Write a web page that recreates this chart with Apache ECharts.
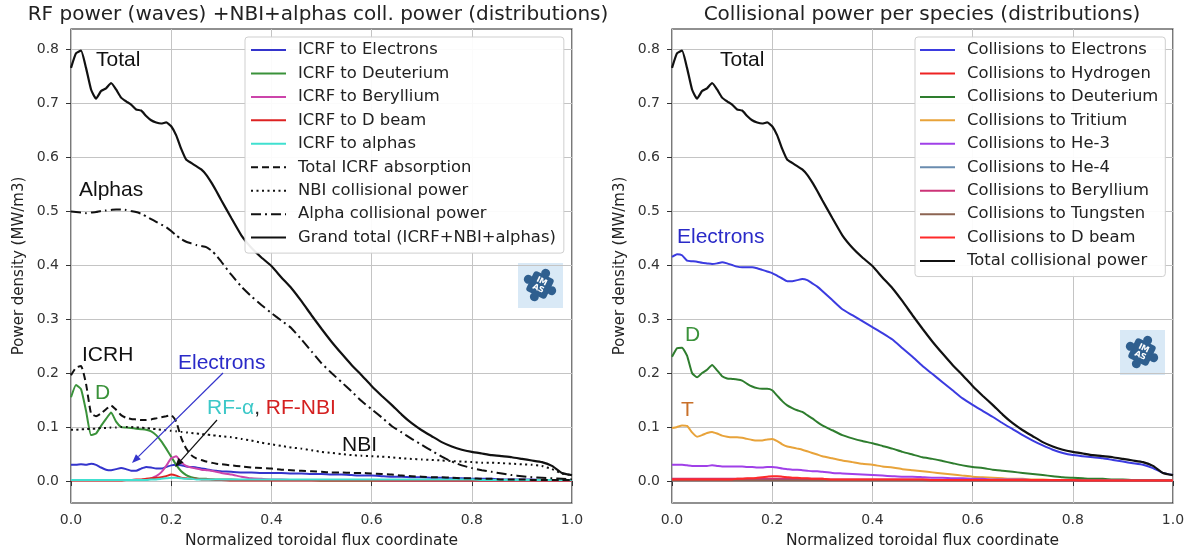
<!DOCTYPE html>
<html><head><meta charset="utf-8">
<script src="https://cdn.jsdelivr.net/npm/echarts@6/dist/echarts.min.js"></script>
<style>html,body{margin:0;padding:0;background:#fff}#c{width:1197px;height:556px}</style>
</head><body><div id="c"></div>
<script>
// ---------- DATA ----------
const xs = [0,0.01,0.02,0.03,0.04,0.05,0.06,0.07,0.08,0.09,0.10,0.11,0.12,0.13,0.14,0.15,0.16,0.17,0.18,0.19,0.20,0.21,0.22,0.23,0.24,0.25,0.26,0.27,0.28,0.29,0.30,
0.32,0.34,0.36,0.38,0.40,0.42,0.44,0.46,0.48,0.50,0.52,0.54,0.56,0.58,0.60,0.62,0.64,0.66,0.68,0.70,0.72,0.74,0.76,0.78,0.80,0.82,0.84,0.86,0.88,0.90,0.92,0.94,0.96,0.98,1.00];
const yTicks = [0,0.1,0.2,0.3,0.4,0.5,0.6,0.7,0.8];
const xTickLabels = ['0.0','0.2','0.4','0.6','0.8','1.0'];

// Left panel
const grandTotal = [0.765,0.792,0.797,0.765,0.725,0.708,0.722,0.727,0.737,0.725,0.710,0.703,0.697,0.688,0.686,0.676,0.668,0.664,0.662,0.664,0.657,0.640,0.615,0.595,0.589,0.583,0.577,0.567,0.553,0.537,0.520,
0.487,0.455,0.432,0.414,0.398,0.377,0.357,0.333,0.307,0.282,0.258,0.236,0.215,0.196,0.176,0.158,0.141,0.123,0.107,0.094,0.083,0.072,0.064,0.058,0.054,0.051,0.048,0.046,0.044,0.041,0.038,0.035,0.028,0.015,0.011];
const alphaColl = [0.499,0.498,0.497,0.496,0.497,0.498,0.500,0.501,0.502,0.503,0.503,0.502,0.500,0.498,0.495,0.490,0.485,0.480,0.475,0.470,0.463,0.455,0.448,0.443,0.440,0.437,0.435,0.433,0.427,0.418,0.406,
0.382,0.360,0.342,0.326,0.311,0.297,0.283,0.262,0.240,0.218,0.200,0.183,0.166,0.148,0.133,0.118,0.102,0.090,0.078,0.067,0.056,0.045,0.036,0.029,0.024,0.020,0.017,0.014,0.011,0.009,0.007,0.006,0.005,0.004,0.003];
const nbiColl = [0.095,0.095,0.096,0.096,0.097,0.097,0.098,0.098,0.099,0.099,0.100,0.100,0.100,0.099,0.099,0.098,0.097,0.096,0.095,0.094,0.093,0.092,0.091,0.090,0.089,0.088,0.087,0.086,0.085,0.084,0.083,
0.081,0.078,0.075,0.071,0.068,0.065,0.062,0.060,0.057,0.054,0.052,0.050,0.048,0.047,0.046,0.045,0.044,0.042,0.041,0.040,0.039,0.038,0.037,0.036,0.035,0.034,0.034,0.033,0.032,0.031,0.030,0.028,0.022,0.014,0.011];
const icrfTotal = [0.196,0.210,0.213,0.180,0.125,0.120,0.125,0.133,0.140,0.132,0.122,0.117,0.115,0.114,0.113,0.113,0.114,0.116,0.118,0.120,0.122,0.110,0.080,0.060,0.048,0.042,0.039,0.036,0.034,0.032,0.031,
0.029,0.027,0.025,0.024,0.023,0.021,0.020,0.019,0.018,0.017,0.016,0.016,0.015,0.015,0.014,0.013,0.012,0.010,0.009,0.008,0.007,0.007,0.006,0.005,0.005,0.004,0.004,0.003,0.003,0.003,0.002,0.002,0.002,0.002,0.002];
const icrfD = [0.155,0.178,0.170,0.130,0.085,0.088,0.102,0.115,0.127,0.110,0.100,0.099,0.098,0.097,0.096,0.095,0.092,0.085,0.074,0.060,0.045,0.030,0.018,0.011,0.007,0.005,0.004,0.004,0.003,0.003,0.003,
0.003,0.002,0.002,0.002,0.002,0.002,0.002,0.002,0.002,0.001,0.001,0.001,0.001,0.001,0.001,0.001,0.001,0.001,0.001,0.001,0.001,0.001,0.001,0.001,0.001,0.001,0.001,0.001,0.001,0.001,0.001,0.001,0.001,0.001,0.001];
const icrfE = [0.030,0.030,0.031,0.030,0.032,0.030,0.025,0.021,0.020,0.022,0.024,0.022,0.019,0.019,0.023,0.026,0.025,0.023,0.023,0.026,0.029,0.030,0.029,0.027,0.026,0.025,0.023,0.022,0.020,0.019,0.018,
0.017,0.016,0.016,0.015,0.015,0.015,0.014,0.014,0.013,0.013,0.012,0.012,0.011,0.010,0.010,0.009,0.008,0.008,0.007,0.007,0.006,0.006,0.005,0.005,0.004,0.004,0.004,0.003,0.003,0.003,0.003,0.002,0.002,0.002,0.002];
const icrfBe = [0.002,0.002,0.002,0.002,0.002,0.002,0.002,0.002,0.002,0.002,0.002,0.002,0.002,0.002,0.002,0.002,0.005,0.009,0.016,0.028,0.042,0.046,0.035,0.028,0.025,0.023,0.021,0.020,0.019,0.017,0.015,
0.012,0.008,0.005,0.004,0.003,0.003,0.002,0.002,0.002,0.002,0.002,0.002,0.002,0.002,0.002,0.001,0.001,0.001,0.001,0.001,0.001,0.001,0.001,0.001,0.001,0.001,0.001,0.001,0.001,0.001,0.001,0.001,0.001,0.001,0.001];
const icrfDbeam = [0.001,0.001,0.001,0.001,0.001,0.001,0.001,0.001,0.001,0.001,0.001,0.002,0.002,0.003,0.003,0.004,0.005,0.006,0.007,0.009,0.012,0.010,0.006,0.005,0.004,0.004,0.003,0.003,0.003,0.002,0.002,
0.001,0.001,0.001,0.001,0.001,0.001,0.001,0.001,0.001,0.001,0.001,0.001,0.001,0.001,0.001,0.001,0.001,0.001,0.001,0.001,0.001,0.001,0.001,0.001,0.001,0.001,0.001,0.001,0.001,0.001,0.001,0.001,0.001,0.001,0.001];
const icrfAlpha = [0.002,0.002,0.002,0.002,0.002,0.002,0.002,0.002,0.002,0.002,0.002,0.002,0.002,0.002,0.002,0.002,0.003,0.003,0.004,0.005,0.006,0.006,0.005,0.004,0.004,0.003,0.003,0.003,0.003,0.003,0.003,
0.003,0.003,0.003,0.003,0.003,0.003,0.003,0.003,0.003,0.003,0.003,0.003,0.003,0.003,0.003,0.003,0.003,0.003,0.003,0.003,0.003,0.003,0.003,0.003,0.003,0.002,0.002,0.002,0.002,0.002,0.002,0.002,0.002,0.002,0.002];

// Right panel
const collE = [0.415,0.420,0.418,0.408,0.407,0.406,0.404,0.403,0.402,0.403,0.405,0.403,0.400,0.397,0.396,0.396,0.396,0.394,0.391,0.388,0.385,0.380,0.375,0.370,0.370,0.372,0.374,0.372,0.366,0.360,0.352,
0.335,0.318,0.307,0.296,0.285,0.274,0.262,0.246,0.230,0.213,0.198,0.183,0.168,0.153,0.141,0.130,0.119,0.107,0.096,0.085,0.075,0.066,0.058,0.052,0.048,0.046,0.044,0.042,0.039,0.036,0.033,0.030,0.024,0.015,0.011];
const collH = [0.002,0.002,0.002,0.002,0.002,0.002,0.002,0.002,0.002,0.002,0.002,0.002,0.002,0.002,0.002,0.002,0.002,0.002,0.002,0.002,0.002,0.002,0.002,0.002,0.002,0.002,0.002,0.002,0.002,0.002,0.002,
0.002,0.002,0.002,0.002,0.002,0.002,0.002,0.002,0.002,0.002,0.001,0.001,0.001,0.001,0.001,0.001,0.001,0.001,0.001,0.001,0.001,0.001,0.001,0.001,0.001,0.001,0.001,0.001,0.001,0.001,0.001,0.001,0.001,0.001,0.001];
const collD = [0.230,0.246,0.247,0.232,0.200,0.192,0.200,0.206,0.215,0.205,0.194,0.190,0.189,0.188,0.186,0.180,0.175,0.172,0.171,0.171,0.168,0.158,0.148,0.140,0.135,0.131,0.128,0.122,0.116,0.109,0.103,
0.094,0.085,0.079,0.074,0.070,0.065,0.060,0.054,0.049,0.044,0.041,0.037,0.033,0.029,0.026,0.024,0.021,0.019,0.017,0.015,0.013,0.011,0.009,0.007,0.006,0.005,0.004,0.004,0.003,0.003,0.002,0.002,0.002,0.001,0.001];
const collT = [0.098,0.100,0.103,0.102,0.090,0.082,0.085,0.089,0.091,0.088,0.084,0.082,0.081,0.081,0.080,0.078,0.076,0.075,0.075,0.077,0.078,0.074,0.068,0.064,0.062,0.060,0.058,0.055,0.052,0.049,0.046,
0.042,0.038,0.035,0.032,0.030,0.027,0.025,0.022,0.020,0.018,0.016,0.014,0.012,0.010,0.008,0.007,0.006,0.005,0.004,0.004,0.003,0.003,0.002,0.002,0.002,0.002,0.001,0.001,0.001,0.001,0.001,0.001,0.001,0.001,0.001];
const collHe3 = [0.030,0.030,0.030,0.029,0.028,0.028,0.028,0.028,0.029,0.028,0.027,0.027,0.027,0.027,0.027,0.026,0.026,0.025,0.025,0.026,0.026,0.025,0.023,0.022,0.021,0.021,0.020,0.019,0.018,0.018,0.017,
0.015,0.014,0.013,0.012,0.011,0.010,0.009,0.008,0.008,0.007,0.006,0.006,0.005,0.005,0.004,0.004,0.003,0.003,0.003,0.003,0.002,0.002,0.002,0.002,0.002,0.001,0.001,0.001,0.001,0.001,0.001,0.001,0.001,0.001,0.001];
const collHe4 = [0.001,0.001,0.001,0.001,0.001,0.001,0.001,0.001,0.001,0.001,0.001,0.001,0.001,0.001,0.001,0.001,0.001,0.001,0.001,0.001,0.001,0.001,0.001,0.001,0.001,0.001,0.001,0.001,0.001,0.001,0.001,
0.001,0.001,0.001,0.001,0.001,0.001,0.001,0.001,0.001,0.001,0.001,0.001,0.001,0.001,0.001,0.001,0.001,0.001,0.001,0.001,0.001,0.001,0.001,0.001,0.001,0.001,0.001,0.001,0.001,0.001,0.001,0.001,0.001,0.001,0.001];
const collBe = [0.004,0.004,0.004,0.004,0.004,0.004,0.004,0.004,0.004,0.004,0.004,0.004,0.004,0.004,0.004,0.004,0.004,0.004,0.004,0.004,0.004,0.004,0.004,0.004,0.004,0.004,0.004,0.004,0.004,0.004,0.004,
0.003,0.003,0.003,0.003,0.003,0.003,0.003,0.003,0.003,0.003,0.002,0.002,0.002,0.002,0.002,0.002,0.002,0.002,0.002,0.002,0.001,0.001,0.001,0.001,0.001,0.001,0.001,0.001,0.001,0.001,0.001,0.001,0.001,0.001,0.001];
const collW = [0.001,0.001,0.001,0.001,0.001,0.001,0.001,0.001,0.001,0.001,0.001,0.001,0.001,0.001,0.001,0.001,0.001,0.001,0.001,0.001,0.001,0.001,0.001,0.001,0.001,0.001,0.001,0.001,0.001,0.001,0.001,
0.001,0.001,0.001,0.001,0.001,0.001,0.001,0.001,0.001,0.001,0.001,0.001,0.001,0.001,0.001,0.001,0.001,0.001,0.001,0.001,0.001,0.001,0.001,0.001,0.001,0.001,0.001,0.001,0.001,0.001,0.001,0.001,0.001,0.001,0.001];
const collDbeam = [0.003,0.003,0.003,0.003,0.003,0.003,0.003,0.003,0.003,0.003,0.003,0.003,0.003,0.004,0.004,0.005,0.005,0.006,0.007,0.008,0.009,0.009,0.008,0.007,0.006,0.006,0.005,0.005,0.004,0.004,0.004,
0.003,0.003,0.003,0.003,0.003,0.003,0.003,0.003,0.003,0.003,0.002,0.002,0.002,0.002,0.002,0.002,0.002,0.002,0.002,0.002,0.002,0.002,0.002,0.002,0.002,0.001,0.001,0.001,0.001,0.001,0.001,0.001,0.001,0.001,0.001];
const collTotal = grandTotal;

const leftNames = ['ICRF to Electrons','ICRF to Deuterium','ICRF to Beryllium','ICRF to D beam','ICRF to alphas','Total ICRF absorption','NBI collisional power','Alpha collisional power','Grand total (ICRF+NBI+alphas)'];
const rightNames = ['Collisions to Electrons','Collisions to Hydrogen','Collisions to Deuterium','Collisions to Tritium','Collisions to He-3','Collisions to He-4','Collisions to Beryllium','Collisions to Tungsten','Collisions to D beam','Total collisional power'];

// ---------- CHART ----------
const pair = arr => xs.map((x, i) => [x, arr[i]]);
const dashDot = [10, 4, 2, 4];
const leftSpec = [
  [icrfE, '#3434cc', 'solid', 2],
  [icrfD, '#3a923a', 'solid', 2],
  [icrfBe, '#cc44aa', 'solid', 2],
  [icrfDbeam, '#dd2222', 'solid', 2],
  [icrfAlpha, '#40e0d0', 'solid', 2],
  [icrfTotal, '#111111', [7, 4], 2],
  [nbiColl, '#111111', [2, 3.5], 2],
  [alphaColl, '#111111', dashDot, 2],
  [grandTotal, '#111111', 'solid', 2.2]
];
const rightSpec = [
  [collE, '#3b3be0', 'solid', 2],
  [collH, '#ee2222', 'solid', 2],
  [collD, '#2e7d2e', 'solid', 2],
  [collT, '#e8a33a', 'solid', 2],
  [collHe3, '#a040e8', 'solid', 2],
  [collHe4, '#6a8caf', 'solid', 2],
  [collBe, '#cc3377', 'solid', 2],
  [collW, '#8c6452', 'solid', 2],
  [collDbeam, '#ff2a2a', 'solid', 2],
  [collTotal, '#111111', 'solid', 2.2]
];
const series = [];
leftSpec.forEach((s, i) => series.push({
  name: leftNames[i], type: 'line', xAxisIndex: 0, yAxisIndex: 0, data: pair(s[0]),
  showSymbol: false, symbol: 'none', smooth: 0.15, color: s[1],
  lineStyle: { color: s[1], width: s[3], type: s[2] }, z: 2 + i * 0.01
}));
rightSpec.forEach((s, i) => series.push({
  name: rightNames[i], type: 'line', xAxisIndex: 1, yAxisIndex: 1, data: pair(s[0]),
  showSymbol: false, symbol: 'none', smooth: 0.15, color: s[1],
  lineStyle: { color: s[1], width: s[3], type: s[2] }, z: 2 + i * 0.01
}));

const tickFont = { fontFamily: 'DejaVu Sans', fontSize: 14, color: '#333' };
function xAx(gi) {
  return {
    gridIndex: gi, type: 'value', min: 0, max: 1, interval: 0.2,
    axisLine: { show: false },
    axisTick: { show: true, length: 5, lineStyle: { color: '#333' } },
    axisLabel: Object.assign({ margin: 10, formatter: v => xTickLabels[Math.round(v / 0.2)] }, tickFont),
    splitLine: { show: true, lineStyle: { color: '#c4c4c4', width: 1 } },
    name: 'Normalized toroidal flux coordinate', nameLocation: 'middle', nameGap: 30,
    nameTextStyle: { fontFamily: 'DejaVu Sans', fontSize: 15.5, color: '#222' }
  };
}
function yAx(gi) {
  return {
    gridIndex: gi, type: 'value', min: -0.0407, max: 0.837,
    axisLine: { show: false },
    axisTick: { show: true, length: 5, customValues: yTicks, lineStyle: { color: '#333' } },
    axisLabel: Object.assign({ margin: 12, customValues: yTicks, formatter: v => v.toFixed(1) }, tickFont),
    splitLine: { show: true, lineStyle: { color: '#c4c4c4', width: 1 } },
    name: 'Power density (MW/m3)', nameLocation: 'middle', nameGap: 44, nameRotate: 90,
    nameTextStyle: { fontFamily: 'DejaVu Sans', fontSize: 15, color: '#222' }
  };
}
const legendBase = {
  orient: 'vertical', itemWidth: 35, itemHeight: 14, itemGap: 7.45,
  backgroundColor: 'rgba(255,255,255,0.92)', borderColor: '#cfcfcf', borderWidth: 1, borderRadius: 3,
  itemStyle: { opacity: 0, borderWidth: 0 },
  textStyle: { fontFamily: 'DejaVu Sans', fontSize: 16.4, color: '#222', padding: [0, 0, 0, 7] },
  selectedMode: false
};

function arrow(x1, y1, x2, y2, color) {
  const a = Math.atan2(y2 - y1, x2 - x1), L = 9, W = 3.5;
  const bx = x2 - L * Math.cos(a), by = y2 - L * Math.sin(a);
  return [
    { type: 'line', shape: { x1, y1, x2: bx, y2: by }, style: { stroke: color, lineWidth: 1.2 }, z: 10 },
    { type: 'polygon', shape: { points: [[x2, y2], [bx + W * Math.sin(a), by - W * Math.cos(a)], [bx - W * Math.sin(a), by + W * Math.cos(a)]] }, style: { fill: color }, z: 10 }
  ];
}
function logo(x, y) {
  const cx = x + 22, cy = y + 22, col = '#2f5f8f';
  return {
    type: 'group', z: 10, children: [
      { type: 'rect', shape: { x, y, width: 45, height: 45 }, style: { fill: '#d9e9f6' } },
      { type: 'group', x: cx, y: cy, rotation: -Math.PI / 7, children: [
        { type: 'rect', shape: { x: -11, y: -11, width: 22, height: 22, r: 3 }, style: { fill: col } },
        { type: 'circle', shape: { cx: 0, cy: -13, r: 4.5 }, style: { fill: col } },
        { type: 'circle', shape: { cx: 13, cy: 0, r: 4.5 }, style: { fill: col } },
        { type: 'circle', shape: { cx: 0, cy: 13, r: 4.5 }, style: { fill: col } },
        { type: 'circle', shape: { cx: -13, cy: 0, r: 4.5 }, style: { fill: col } },
        { type: 'text', style: { text: 'IM\nAS', x: 0, y: 0, align: 'center', verticalAlign: 'middle', fill: '#fff', fontSize: 8, fontWeight: 'bold', fontFamily: 'DejaVu Sans', lineHeight: 8 } }
      ] }
    ]
  };
}
const ann = (text, x, y, fill, size) => ({
  type: 'text', z: 10, style: { text, x, y, fill, fontFamily: 'Liberation Sans', fontSize: size || 21, align: 'left', verticalAlign: 'middle' }
});

const graphic = [
  { type: 'text', style: { text: 'RF power (waves) +NBI+alphas coll. power (distributions)', x: 318, y: 15, align: 'center', verticalAlign: 'middle', fill: '#222', fontFamily: 'DejaVu Sans', fontSize: 20 } },
  { type: 'text', style: { text: 'Collisional power per species (distributions)', x: 922, y: 15, align: 'center', verticalAlign: 'middle', fill: '#222', fontFamily: 'DejaVu Sans', fontSize: 20 } },
  ann('Total', 96, 60, '#111'),
  ann('Alphas', 79, 190, '#111'),
  ann('ICRH', 82, 355, '#111'),
  ann('D', 95, 393, '#3a923a'),
  ann('Electrons', 178, 363, '#2a2ac8'),
  { type: 'text', z: 10, style: { text: '{a|RF-α}{b|, }{c|RF-NBI}', x: 207, y: 408, align: 'left', verticalAlign: 'middle', fontFamily: 'Liberation Sans', fontSize: 21,
      rich: { a: { fill: '#3cc8c8', fontFamily: 'Liberation Sans', fontSize: 21 }, b: { fill: '#222', fontFamily: 'Liberation Sans', fontSize: 21 }, c: { fill: '#d42020', fontFamily: 'Liberation Sans', fontSize: 21 } } } },
  ann('NBI', 342, 445, '#111'),
  ...arrow(223, 373, 132, 463, '#3434cc'),
  ...arrow(217, 420, 175, 467, '#111'),
  logo(518, 263),
  ann('Total', 720, 60, '#111'),
  ann('Electrons', 677, 237, '#2a2ac8'),
  ann('D', 685, 335, '#3a923a'),
  ann('T', 681, 410, '#c8702a'),
  logo(1120, 330)
];

const chart = echarts.init(document.getElementById('c'), null, { renderer: 'canvas' });
chart.setOption({
  animation: false,
  backgroundColor: '#fff',
  grid: [
    { left: 71, top: 29, width: 501, height: 474, show: true, borderColor: '#222', borderWidth: 1.2, backgroundColor: 'transparent' },
    { left: 672, top: 29, width: 501, height: 474, show: true, borderColor: '#222', borderWidth: 1.2, backgroundColor: 'transparent' }
  ],
  xAxis: [xAx(0), xAx(1)],
  yAxis: [yAx(0), yAx(1)],
  legend: [
    Object.assign({}, legendBase, { data: leftNames, left: 245, top: 37, padding: [5, 8, 7.5, 5] }),
    Object.assign({}, legendBase, { data: rightNames, left: 915, top: 37, padding: [5, 7, 7.5, 4] })
  ],
  series,
  graphic
});
</script></body></html>
